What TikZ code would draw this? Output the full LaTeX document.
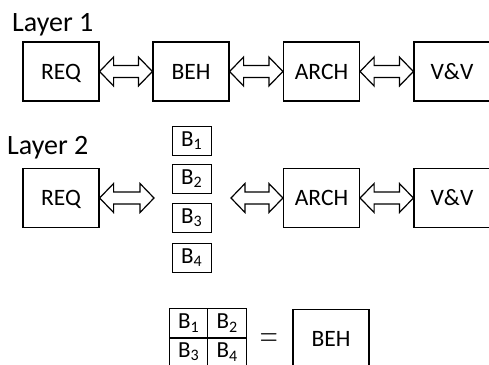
\documentclass[tikz,border=0pt]{standalone}
\usepackage{fontspec}
\usepackage{graphicx}
\setmainfont{Carlito}
\usetikzlibrary{calc}
% hollow double-headed block arrow between two points
\newcommand\dblarr[2]{%
  \draw[arrowline] let \p1=(#1), \p2=(#2) in
    (\x1,\y1) -- (\x1+14pt,\y1+14.5pt) -- (\x1+14pt,\y1+6pt)
    -- (\x2-14pt,\y1+6pt) -- (\x2-14pt,\y1+14.5pt) -- (\x2,\y1)
    -- (\x2-14pt,\y1-14.5pt) -- (\x2-14pt,\y1-6pt)
    -- (\x1+14pt,\y1-6pt) -- (\x1+14pt,\y1-14.5pt) -- cycle;}
\newcommand\Bsub[1]{B\raisebox{-0.3ex}{\fontsize{16}{16}\selectfont #1}}
\begin{document}
\begin{tikzpicture}[x=1pt,y=-1pt,
  box/.style={draw, line width=1.2pt, minimum width=76pt, minimum height=59pt,
    inner sep=0pt, text height=15pt, text depth=0pt,
    font=\fontsize{23.5}{23.5}\selectfont},
  bbox/.style={draw, line width=1pt, minimum width=39pt, minimum height=29pt,
    inner sep=0pt, font=\fontsize{23}{23}\selectfont},
  cell/.style={draw, line width=1pt, minimum width=38.5pt, minimum height=30pt,
    inner sep=0pt, font=\fontsize{23}{23}\selectfont},
  layer/.style={anchor=base west, inner sep=0pt, font=\fontsize{28}{28}\selectfont},
  arrowline/.style={draw, line width=1.2pt, line join=miter, fill=white}]
\useasboundingbox (0,0) rectangle (489,364);
\clip (0,0) rectangle (489,364);

% Layer 1
\node[layer] (l1) at (12,31) {Layer 1};
\node[box] (req1)  at (61,71.5)    {REQ};
\node[box] (beh1)  at (191,71.5)   {BEH};
\node[box] (arch1) at (321.5,71.5) {ARCH};
\node[box] (vv1)   at (452,71.5)   {V\&V};
\dblarr{req1.east}{beh1.west}
\dblarr{beh1.east}{arch1.west}
\dblarr{arch1.east}{vv1.west}

% Layer 2
\node[layer] (l2) at (7,154) {Layer 2};
\node[box] (req2)  at (61,198)    {REQ};
\node[box] (arch2) at (321.5,198) {ARCH};
\node[box] (vv2)   at (452,198)   {V\&V};
\node[bbox] (b1) at (191.5,140.5) {\Bsub{1}};
\node[bbox] (b2) at (191.5,178.5) {\Bsub{2}};
\node[bbox] (b3) at (191.5,217.5) {\Bsub{3}};
\node[bbox] (b4) at (191.5,257.5) {\Bsub{4}};
\coordinate (bl) at (154,198);
\coordinate (br) at (231,198);
\dblarr{req2.east}{bl}
\dblarr{br}{arch2.west}
\dblarr{arch2.east}{vv2.west}

% composition of the B blocks
\node[cell] (g1) at (188.5,323) {\Bsub{1}};
\node[cell] (g2) at (227,323)   {\Bsub{2}};
\node[cell] (g3) at (188.5,352) {\Bsub{3}};
\node[cell] (g4) at (227,352)   {\Bsub{4}};
\node[inner sep=0pt, font=\fontsize{31}{31}\selectfont] (eq) at (268.7,340.3)
  {\scalebox{1}[1.45]{$=$}};
\node[box] (beh2) at (331,339) {BEH};
\end{tikzpicture}
\end{document}
